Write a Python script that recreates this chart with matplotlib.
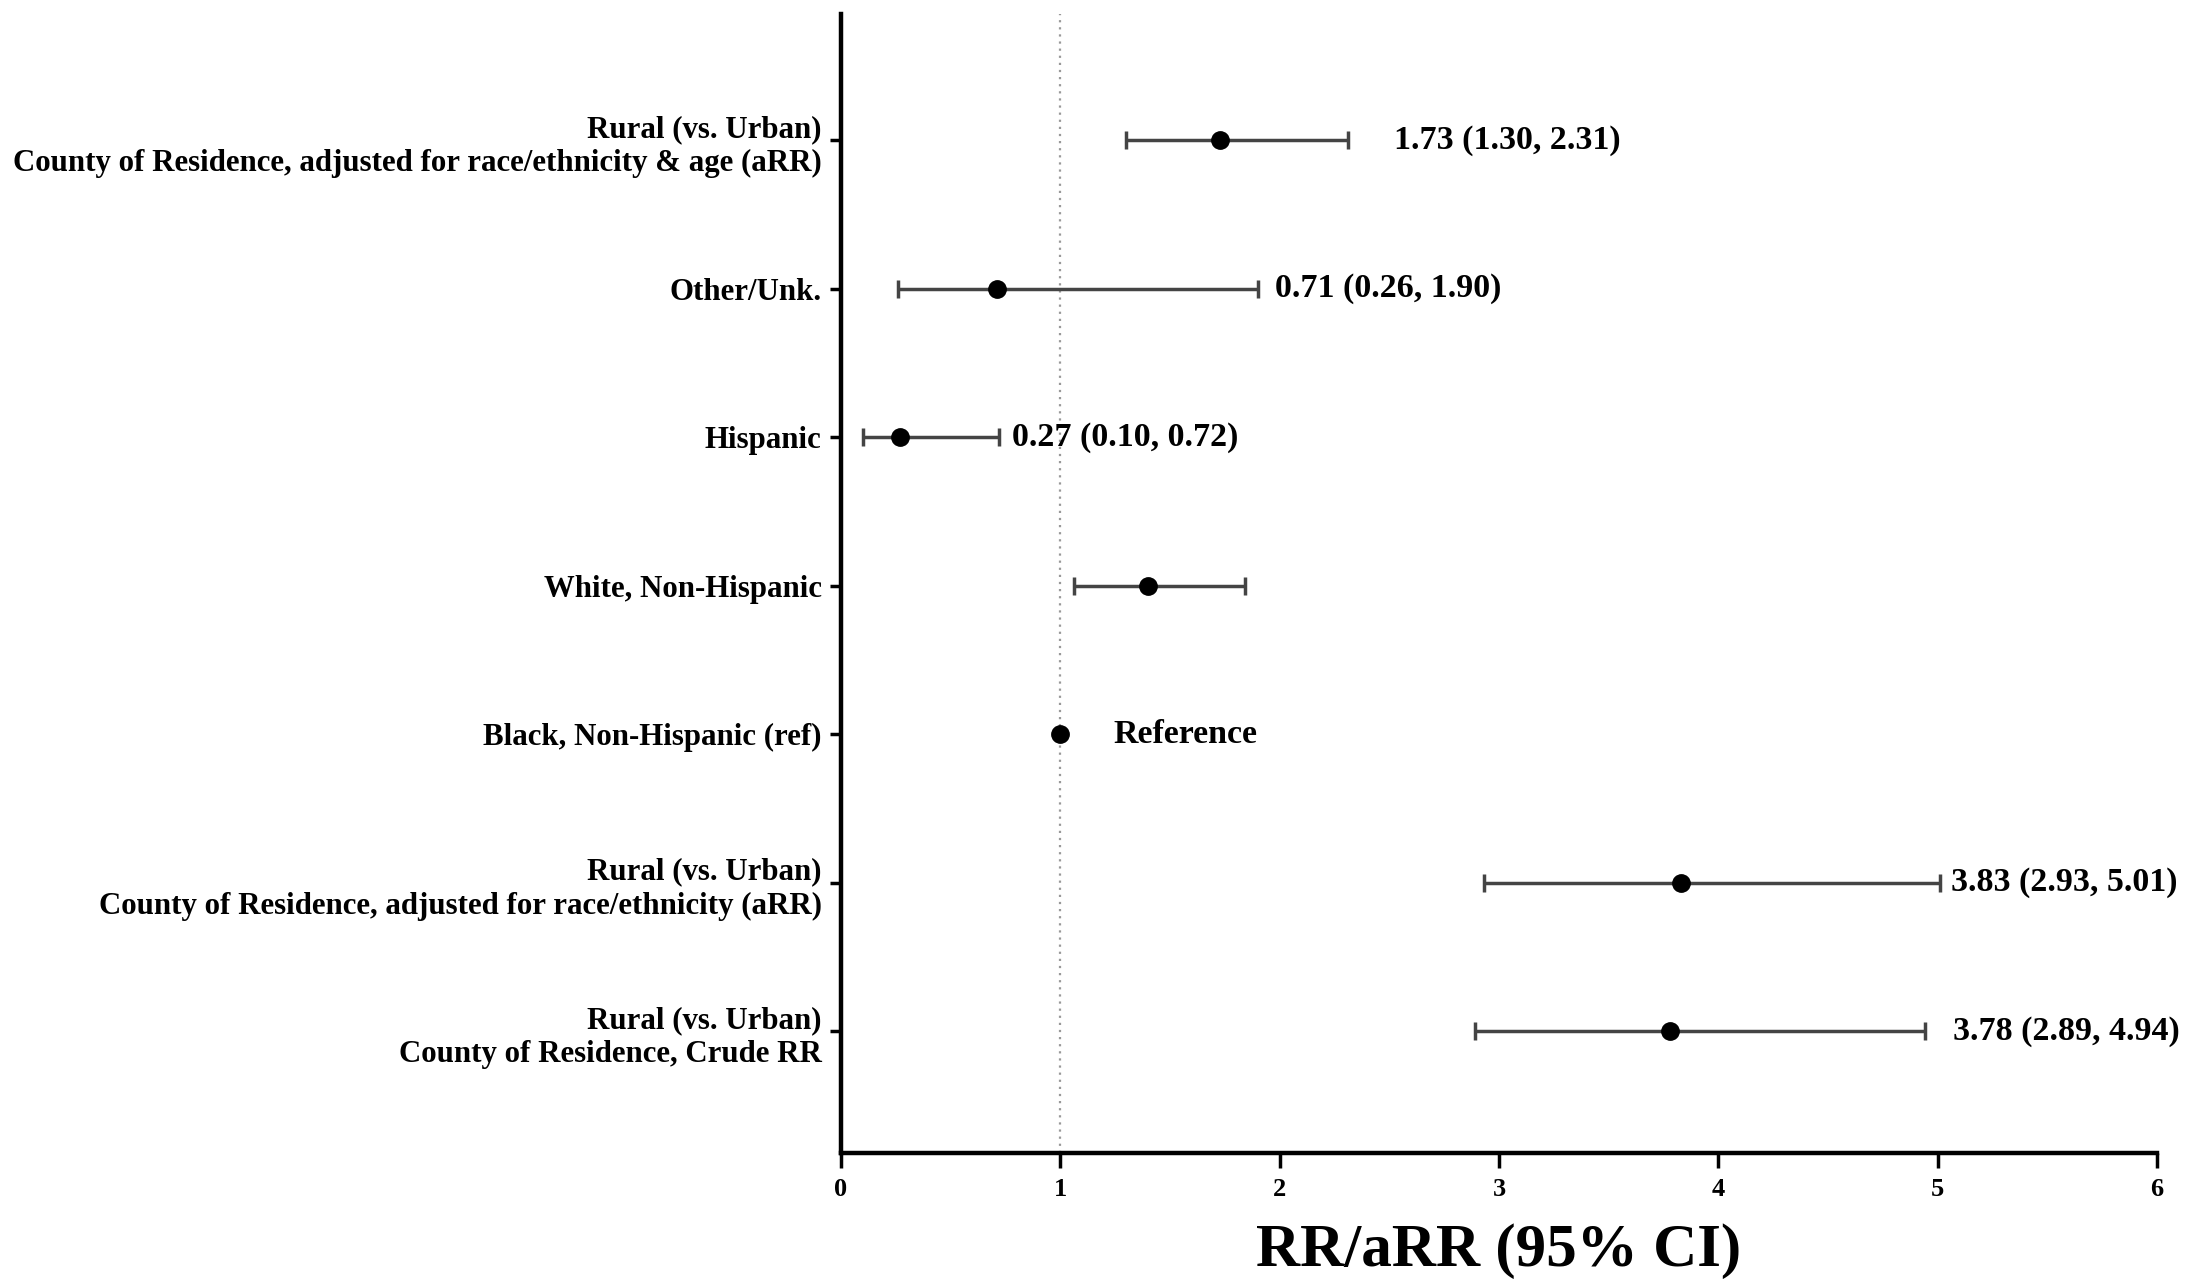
import matplotlib.pyplot as plt
import numpy as np

plt.rcParams["font.family"] = ["Liberation Serif", "DejaVu Serif"]
plt.rcParams["font.weight"] = "bold"

# rows listed top to bottom
CATEGORIES = [
    "Rural (vs. Urban)\nCounty of Residence, adjusted for race/ethnicity & age (aRR)",
    "Other/Unk.",
    "Hispanic",
    "White, Non-Hispanic",
    "Black, Non-Hispanic (ref)",
    "Rural (vs. Urban)\nCounty of Residence, adjusted for race/ethnicity (aRR)",
    "Rural (vs. Urban)\nCounty of Residence, Crude RR",
]
ESTIMATE = [1.73, 0.71, 0.27, 1.40, 1.00, 3.83, 3.78]
LOWER = [1.30, 0.26, 0.10, 1.06, 1.00, 2.93, 2.89]
UPPER = [2.31, 1.90, 0.72, 1.84, 1.00, 5.01, 4.94]
ANNOTATIONS = [
    "1.73 (1.30, 2.31)",
    "0.71 (0.26, 1.90)",
    "0.27 (0.10, 0.72)",
    "",
    "Reference",
    "3.83 (2.93, 5.01)",
    "3.78 (2.89, 4.94)",
]
# where each annotation starts (x, data units)
LABEL_X = [2.52, 1.98, 0.78, None, 1.24, 5.06, 5.07]
X_TICKS = [0, 1, 2, 3, 4, 5, 6]

fig = plt.figure(figsize=(21.97, 12.80), dpi=100)
ax = fig.add_axes([0.3828, 0.0992, 0.5990, 0.8898])

n = len(CATEGORIES)
ypos = np.arange(n, 0, -1)
est = np.array(ESTIMATE)
lo = np.array(LOWER)
hi = np.array(UPPER)

ax.axvline(1, color="#999999", linestyle=(0, (1, 2.2)), linewidth=1.6, zorder=1)

has_ci = hi > lo
ax.errorbar(
    est[has_ci],
    ypos[has_ci],
    xerr=[est[has_ci] - lo[has_ci], hi[has_ci] - est[has_ci]],
    fmt="none",
    ecolor="#444444",
    elinewidth=2.5,
    capsize=6.5,
    capthick=2.5,
    zorder=2,
)
ax.plot(est, ypos, "o", color="black", markersize=12.5, zorder=3)

for y, txt, lx in zip(ypos, ANNOTATIONS, LABEL_X):
    if txt:
        ax.text(lx, y, txt, fontsize=24.5, fontweight="bold", va="center", ha="left")

ax.set_xlim(0, 6)
ax.set_ylim(0.18, 7.85)
ax.set_xticks(X_TICKS)
ax.set_xticklabels([str(t) for t in X_TICKS], fontsize=19, fontweight="bold")
ax.set_yticks(ypos)
ax.set_yticklabels(CATEGORIES, fontsize=22.2, fontweight="bold", linespacing=1.25)

ax.spines["top"].set_visible(False)
ax.spines["right"].set_visible(False)
ax.spines["left"].set_linewidth(3.2)
ax.spines["bottom"].set_linewidth(3.2)
ax.tick_params(axis="x", length=11, width=2.5, pad=7)
ax.tick_params(axis="y", length=8, width=2.5, pad=6)

ax.set_xlabel("RR/aRR (95% CI)", fontsize=44, fontweight="bold", labelpad=16)

fig.savefig("out.png", dpi=100, facecolor="white")
